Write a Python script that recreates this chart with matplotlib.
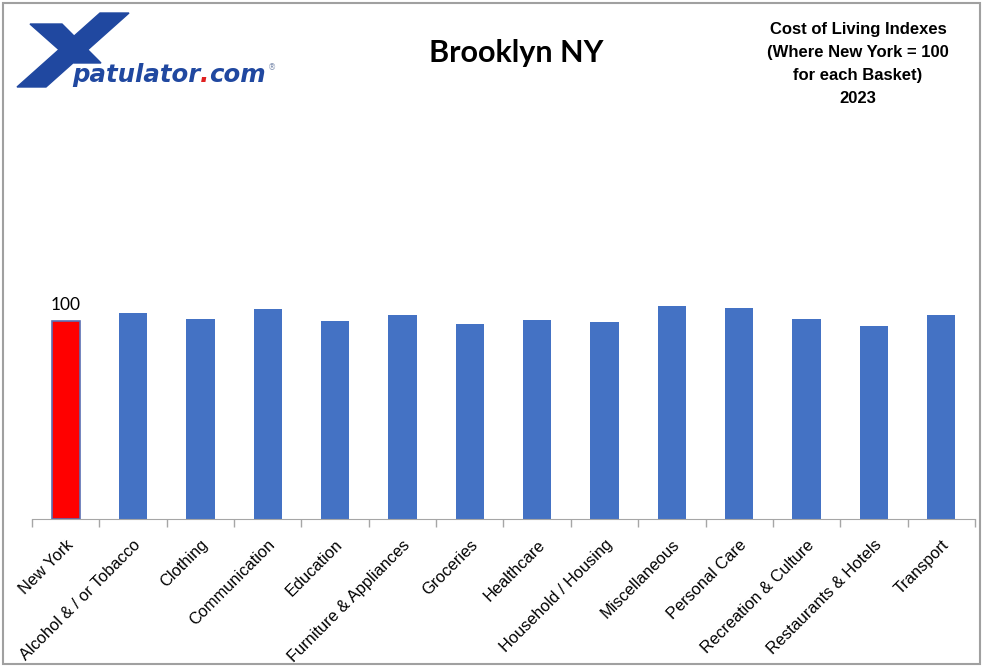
import matplotlib

matplotlib.use("Agg")
import matplotlib.pyplot as plt
import matplotlib.transforms as mtransforms
from matplotlib.patches import Polygon, Rectangle
import numpy as np

categories = [
    "New York", "Alcohol & / or Tobacco", "Clothing", "Communication", "Education",
    "Furniture & Appliances", "Groceries", "Healthcare", "Household / Housing",
    "Miscellaneous", "Personal Care", "Recreation & Culture", "Restaurants & Hotels",
    "Transport",
]
index_values = [100, 103.9, 101.0, 106.1, 100.2, 102.9, 98.3, 100.5, 99.6,
                107.6, 106.6, 101.0, 97.3, 102.9]
bar_colors = ["#ff0000"] + ["#4472c4"] * (len(categories) - 1)

W, H = 984, 667
fig = plt.figure(figsize=(W / 100, H / 100), dpi=100)

# main chart
ax = fig.add_axes([32 / W, 1 - 518.5 / H, (975 - 32) / W, 395 / H])
x = np.arange(len(categories))
ax.bar(x, index_values, width=0.42, color=bar_colors, zorder=2)
ax.bar(x[:1], index_values[:1], width=0.42, color="none", edgecolor="#5b6fb3",
       linewidth=1.2, zorder=3)
ax.set_xlim(-0.5, len(categories) - 0.5)
ax.set_ylim(0, 200)
ax.set_yticks([])
ax.set_xticks(np.arange(len(categories) + 1) - 0.5)
ax.set_xticklabels([])
ax.set_xticks(x, minor=True)
ax.set_xticklabels(categories, minor=True, rotation=45, ha="right",
                   rotation_mode="anchor", fontsize=11.8, family="Liberation Sans")
ax.tick_params(axis="x", which="major", length=6, color="#a6a6a6", width=1)
ax.tick_params(axis="x", which="minor", length=0, pad=13.5)
for side in ["top", "right", "left"]:
    ax.spines[side].set_visible(False)
ax.spines["bottom"].set_color("#a6a6a6")
ax.text(x[0], index_values[0] + 4, "100", ha="center", va="bottom",
        fontsize=12.5, family="Lato")

# overlay for titles, logo and frame (pixel coords)
ov = fig.add_axes([0, 0, 1, 1], zorder=-1)
ov.set_xlim(0, W)
ov.set_ylim(H, 0)
ov.axis("off")
ov.add_patch(Rectangle((3, 3), 977, 661, fill=False, edgecolor="#a0a0a0", linewidth=1.5))

ov.text(516, 53, "Brooklyn NY", ha="center", va="center", fontsize=22,
        fontweight="bold", family="Lato")
ov.text(858, 64, "Cost of Living Indexes\n(Where New York = 100\nfor each Basket)\n2023",
        ha="center", va="center", fontsize=12, fontweight="bold",
        family="Liberation Sans", linespacing=1.68)

logo_blue = "#2048a0"
ov.add_patch(Polygon([(100, 13), (129, 13), (46, 87), (17, 87)], color=logo_blue))
ov.add_patch(Polygon([(30, 24), (62, 24), (101, 63), (74, 63)], color=logo_blue))

logo_font = dict(fontsize=17.6, fontweight="bold", style="italic", family="DejaVu Sans",
                 va="baseline")
t1 = ov.text(72, 82, "patulator", color=logo_blue, **logo_font)
fig.canvas.draw()
r = fig.canvas.get_renderer()
pix_x = mtransforms.blended_transform_factory(mtransforms.IdentityTransform(), ov.transData)
e1 = t1.get_window_extent(r)
t2 = ov.text(e1.x1, 82, ".", color="#e02020", transform=pix_x, **logo_font)
e2 = t2.get_window_extent(r)
ov.text(e2.x1, 82, "com", color=logo_blue, transform=pix_x, **logo_font)
ov.text(272, 68, "®", fontsize=6, color="#8090b0", ha="center", va="center")

fig.savefig("out.png", dpi=100)
